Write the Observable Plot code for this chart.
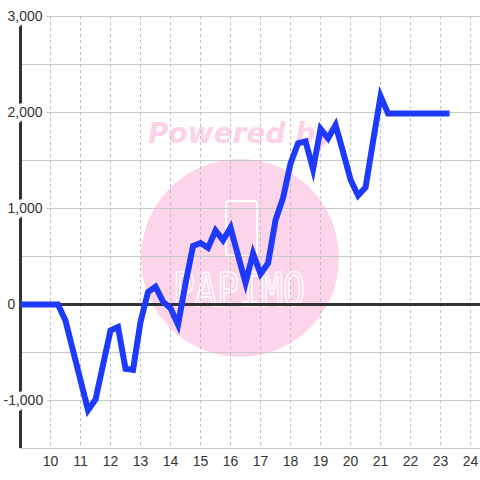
<!DOCTYPE html>
<html>
<head>
<meta charset="utf-8">
<script src="https://cdn.jsdelivr.net/npm/d3@7"></script>
<script src="https://cdn.jsdelivr.net/npm/@observablehq/plot@0.6"></script>
<style>
  html, body { margin: 0; padding: 0; background: #fff; }
  #wrap { position: relative; width: 480px; height: 480px; overflow: hidden; }
  #wm { position: absolute; left: 0; top: 0; }
  #chart { position: absolute; left: 0; top: 0; }
</style>
</head>
<body>
<div id="wrap">
  <svg id="wm" width="480" height="480" xmlns="http://www.w3.org/2000/svg">
    <circle cx="240" cy="258" r="99" fill="#fcd5ea"></circle>
    <text x="148" y="143" fill="#fcd2e8" font-family="DejaVu Sans" font-weight="bold" font-style="italic" font-size="28">Powered by</text>
    <rect x="226" y="201" width="31" height="55" rx="3" fill="none" stroke="#ffffff" stroke-width="2"></rect>
    <text x="173" y="306" fill="none" stroke="#ffffff" stroke-width="1.6" font-family="DejaVu Sans Mono" font-size="46" textLength="132" lengthAdjust="spacingAndGlyphs">PAPIMO</text>
  </svg>
  <div id="chart"></div>
</div>
<script>
// Data
const hours = [9, 10.25, 10.5, 10.75, 11, 11.25, 11.5, 11.75, 12, 12.25, 12.5, 12.75, 13, 13.25, 13.5, 13.75, 14, 14.25, 14.5, 14.75, 15, 15.25, 15.5, 15.75, 16, 16.25, 16.5, 16.75, 17, 17.25, 17.5, 17.75, 18, 18.25, 18.5, 18.75, 19, 19.25, 19.5, 19.75, 20, 20.25, 20.5, 20.75, 21, 21.25, 23.3];
const values = [0, 0, -170, -480, -790, -1100, -990, -630, -270, -235, -670, -680, -180, 130, 185, 30, -40, -210, 220, 610, 640, 590, 770, 670, 800, 510, 225, 530, 320, 430, 880, 1110, 1470, 1680, 1700, 1410, 1830, 1730, 1870, 1590, 1300, 1135, 1220, 1700, 2170, 1990, 1990];

const xTicks = [10, 11, 12, 13, 14, 15, 16, 17, 18, 19, 20, 21, 22, 23, 24];
const yGrid = [-1500, -1000, -500, 0, 500, 1000, 1500, 2000, 2500, 3000];
const yTicks = [0, 1000, 2000, 3000];
const yTickLabels = ["0", "1,000", "2,000", "3,000"];
const yNegTicks = [-1000];
const yNegTickLabels = ["-1,000"];

const series = hours.map((h, i) => ({hour: h, value: values[i]}));
const posLabels = yTicks.map((v, i) => ({v, label: yTickLabels[i]}));
const negLabels = yNegTicks.map((v, i) => ({v, label: yNegTickLabels[i]}));

const font = "'Liberation Sans', Arial, sans-serif";

const chart = Plot.plot({
  width: 480,
  height: 480,
  marginLeft: 20,
  marginRight: 0,
  marginTop: 16,
  marginBottom: 32,
  x: {domain: [9, 24.33], axis: null},
  y: {domain: [-1500, 3000], axis: null},
  style: {background: "transparent", fontFamily: font, fontSize: "14px", overflow: "visible"},
  marks: [
    Plot.ruleX(xTicks, {stroke: "#bdbdbd", strokeWidth: 1, strokeDasharray: "3,3"}),
    Plot.ruleY(yGrid, {stroke: "#c8c8c8", strokeWidth: 1}),
    Plot.ruleY([0], {stroke: "#333333", strokeWidth: 3}),
    Plot.ruleX([9], {stroke: "#333333", strokeWidth: 3}),
    Plot.text(posLabels, {
      y: "v", text: "label", frameAnchor: "left", textAnchor: "start", dx: -13,
      fill: "#333333", stroke: "white", strokeWidth: 8, strokeLinejoin: "round",
      fontSize: 14, fontFamily: font
    }),
    Plot.text(negLabels, {
      y: "v", text: "label", frameAnchor: "left", textAnchor: "start", dx: -17,
      fill: "#333333", stroke: "white", strokeWidth: 8, strokeLinejoin: "round",
      fontSize: 14, fontFamily: font
    }),
    Plot.text(xTicks, {
      x: d => d, text: d => String(d), frameAnchor: "bottom", dy: 13, lineAnchor: "middle",
      fill: "#333333", fontSize: 14, fontFamily: font
    }),
    Plot.line(series, {
      x: "hour", y: "value", stroke: "#1f3aff", strokeWidth: 6,
      strokeLinejoin: "miter", strokeLinecap: "butt", strokeMiterlimit: 10
    })
  ]
});

document.getElementById("chart").appendChild(chart);
</script>
</body>
</html>
